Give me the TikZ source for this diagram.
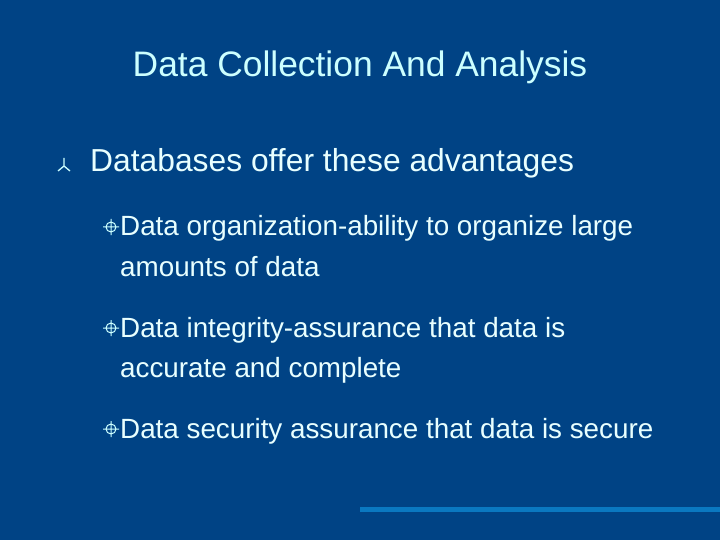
\documentclass[tikz,border=0pt]{standalone}
\usepackage{fontspec}
\setmainfont{Liberation Sans}
\definecolor{bg}{HTML}{004385}
\definecolor{txt}{HTML}{E8FFFF}
\definecolor{ttl}{HTML}{CCFFFF}
\definecolor{bar}{HTML}{0A78C0}
\begin{document}
\begin{tikzpicture}[x=1pt,y=-1pt,
  t/.style={anchor=base west,inner sep=0,text=txt},
  lvl1/.style={t,font=\fontsize{31.8}{38}\selectfont},
  lvl2/.style={t,font=\fontsize{27.8}{34}\selectfont}]
\fill[bg] (0,0) rectangle (720,540);
\useasboundingbox (0,0) rectangle (720,540);
\node[anchor=base,inner sep=0,text=ttl,font=\fontsize{35.4}{42}\selectfont] (title) at (360,77) {Data Collection And Analysis};
% level1 bullet
\draw[ttl,line width=1.3] (64,166) -- (64,158) (64,166) -- (58,171) (64,166) -- (70,171);
\node[lvl1] (l1) at (90,172) {Databases offer these advantages};
\foreach \y in {236,337,438}{
  \draw[ttl,line width=1] (111,\y-9) circle (5) (103,\y-9) -- (119,\y-9) (111,\y-17) -- (111,\y-1);
}
\node[lvl2] (a) at (120,236) {Data organization-ability to organize large};
\node[lvl2] (a2) at (120,276) {amounts of data};
\node[lvl2] (b) at (120,337) {Data integrity-assurance that data is};
\node[lvl2] (b2) at (120,377) {accurate and complete};
\node[lvl2] (c) at (120,438) {Data security assurance that data is secure};
\fill[bar] (360,507) rectangle (720,512);
\end{tikzpicture}
\end{document}
